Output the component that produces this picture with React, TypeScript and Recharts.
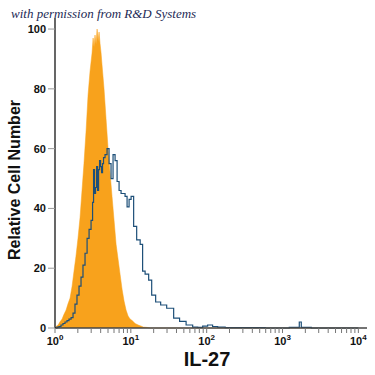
import { ComposedChart, Area, Line, XAxis, YAxis, Label } from "recharts";

// fluorescence intensity (channel value), isotype control and IL-27 staining counts
const intensity = [
  1.03, 1.1, 1.16, 1.24, 1.31, 1.4, 1.48, 1.58, 1.68, 1.78, 1.89, 2.01, 2.14, 2.27,
  2.41, 2.57, 2.73, 2.9, 3.08, 3.18, 3.27, 3.37, 3.48, 3.59, 3.7, 3.81, 3.93, 4.05,
  4.17, 4.3, 4.43, 4.71, 5.01, 5.32, 5.65, 6.01, 6.39, 6.79, 7.21, 7.66, 8.14, 8.65,
  9.2, 9.77, 10.4, 11.4, 12.5, 14.1, 14.5, 16.4, 18.0, 19.7, 22.9, 26.7, 33.0, 40.8,
  47.3, 60.6, 70.5, 82.1, 95.5, 111, 129, 151, 204, 375, 934, 1614, 1715, 1822, 3148,
  10000,
];
const isotype = [
  0.5, 1, 2, 3, 4.5, 6, 8, 10, 14, 19, 24, 30, 37, 46,
  55, 66, 78, 86, 92, 97, 94, 98, 95, 100, 96, 99, 95, 92,
  88, 84, 80, 70, 60, 52, 44, 36, 28, 23, 18, 13, 9, 6,
  4, 3, 2.5, 1.5, 1, 0.5, 0.3, 0.2, 0, 0, 0, 0, 0, 0,
  0, 0, 0, 0, 0, 0, 0, 0, 0, 0, 0, 0, 0, 0, 0,
  0,
];
const il27 = [
  0, 0.3, 0.5, 1, 1.5, 2, 2.5, 3, 3.5, 5, 8, 11, 14, 17,
  21, 25, 30, 33, 36, 42, 53, 45, 47, 54, 46, 53, 56, 54,
  52, 55, 57, 58, 60, 55, 50, 58, 56, 49, 46, 45, 45, 44,
  40.5, 43, 44, 34, 29.5, 28, 19, 18, 16, 11, 8.7, 7.7, 6.6, 3.3,
  2.2, 1, 0.3, 0.2, 0.6, 1, 0.5, 0.3, 0.1, 0.1, 0, 0.2, 2, 0.2, 0,
  0,
];

const yTicks = [0, 20, 40, 60, 80, 100];
const decades = [1, 10, 100, 1000, 10000];
const minorSteps = [1, 2, 3, 4, 5, 6, 7, 8, 9];
const xTicks = decades
  .slice(0, 4)
  .flatMap((d) => minorSteps.map((m) => m * d))
  .concat([10000]);

const data = intensity.map((x, i) => ({ x, iso: isotype[i], il27: il27[i] }));

const ORANGE = "#F8A21C";
const BLUE = "#1d4f78";

const XTick = (props: any) => {
  const { x, y, payload } = props;
  const v = payload.value;
  if (!decades.includes(v)) return <g />;
  const exp = Math.round(Math.log10(v));
  return (
    <text
      x={x}
      y={y + 10}
      textAnchor="middle"
      fontFamily="Liberation Sans, Arial, sans-serif"
      fontWeight="bold"
      fontSize={11}
      fill="#111"
    >
      10
      <tspan dy={-5} fontSize={8}>
        {exp}
      </tspan>
    </text>
  );
};

export default function App() {
  return (
    <div style={{ position: "absolute", left: 0, top: 0, width: 375, height: 375 }}>
      <div
        style={{
          position: "absolute",
          left: 11,
          top: 6,
          fontFamily: "Liberation Serif, serif",
          fontStyle: "italic",
          fontSize: 13,
          color: "#1c2a55",
          whiteSpace: "nowrap",
        }}
      >
        with permission from R&amp;D Systems
      </div>
      <ComposedChart
        width={375}
        height={375}
        data={data}
        margin={{ top: 18, right: 8, bottom: 0, left: 10 }}
      >
        <XAxis
          dataKey="x"
          type="number"
          scale="log"
          domain={[1, 13000]}
          allowDataOverflow
          ticks={xTicks}
          interval={0}
          height={47}
          tickSize={5}
          tickMargin={2}
          tick={<XTick />}
          axisLine={{ stroke: "#444", strokeWidth: 1.5 }}
          tickLine={{ stroke: "#777" }}
        >
          <Label
            content={() => (
              <text
                x={207}
                y={366}
                textAnchor="middle"
                fontFamily="Liberation Sans, Arial, sans-serif"
                fontWeight="bold"
                fontSize={20}
                fill="#111"
              >
                IL-27
              </text>
            )}
          />
        </XAxis>
        <YAxis
          type="number"
          domain={[0, 103.7]}
          ticks={yTicks}
          interval={0}
          width={45}
          tickSize={7}
          tickMargin={2}
          tick={{
            fontFamily: "Liberation Sans, Arial, sans-serif",
            fontWeight: "bold",
            fontSize: 11,
            fill: "#111",
          }}
          axisLine={{ stroke: "#000", strokeWidth: 1.2 }}
          tickLine={{ stroke: "#999" }}
        >
          <Label
            content={() => (
              <text
                x={20}
                y={180}
                transform="rotate(-90 20 180)"
                textAnchor="middle"
                fontFamily="Liberation Sans, Arial, sans-serif"
                fontWeight="bold"
                fontSize={16}
                fill="#111"
              >
                Relative Cell Number
              </text>
            )}
          />
        </YAxis>
        <Area
          dataKey="iso"
          type="linear"
          fill={ORANGE}
          fillOpacity={1}
          stroke={ORANGE}
          strokeWidth={0.5}
          isAnimationActive={false}
        />
        <Line
          dataKey="il27"
          type="step"
          stroke={BLUE}
          strokeWidth={1.2}
          dot={false}
          isAnimationActive={false}
        />
      </ComposedChart>
    </div>
  );
}
